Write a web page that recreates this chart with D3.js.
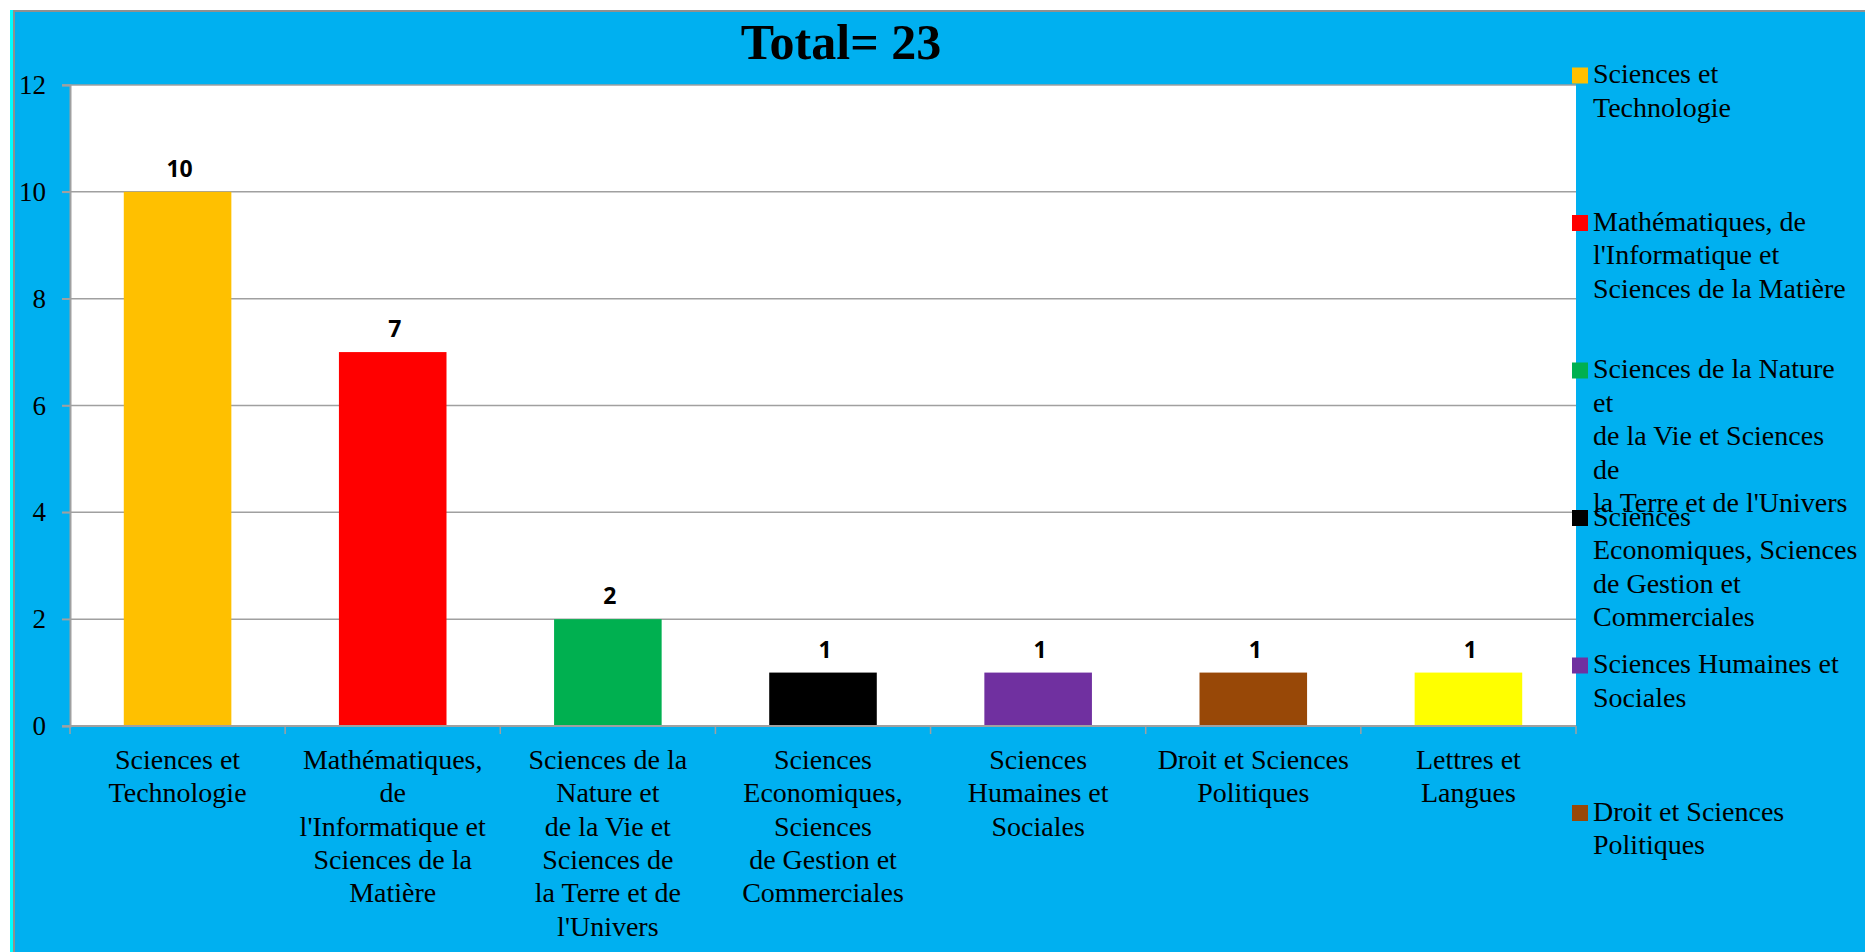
<!DOCTYPE html>
<html lang="fr">
<head>
<meta charset="utf-8">
<title>Total= 23</title>
<script src="https://d3js.org/d3.v7.min.js"></script>
<style>
  body { margin: 0; background: #ffffff; }
  text { font-family: "Liberation Serif", "Times New Roman", serif; }
</style>
</head>
<body>
<script>
// donnees
var categories = [
  "Sciences et Technologie",
  "Mathématiques, de l'Informatique et Sciences de la Matière",
  "Sciences de la Nature et de la Vie et Sciences de la Terre et de l'Univers",
  "Sciences Economiques, Sciences de Gestion et Commerciales",
  "Sciences Humaines et Sociales",
  "Droit et Sciences Politiques",
  "Lettres et Langues"
];
var values = [10, 7, 2, 1, 1, 1, 1];
var colors = ["#FFC000", "#FF0000", "#00B050", "#000000", "#7030A0", "#984807", "#FFFF00"];
var yTicks = [0, 2, 4, 6, 8, 10, 12];

// coupures des libelles (axe et legende)
var axisLines = [
  ["Sciences et", "Technologie"],
  ["Mathématiques,", "de", "l'Informatique et", "Sciences de la", "Matière"],
  ["Sciences de la", "Nature et", "de la Vie et", "Sciences de", "la Terre et de", "l'Univers"],
  ["Sciences", "Economiques,", "Sciences", "de Gestion et", "Commerciales"],
  ["Sciences", "Humaines et", "Sociales"],
  ["Droit et Sciences", "Politiques"],
  ["Lettres et", "Langues"]
];
var legendLines = [
  ["Sciences et", "Technologie"],
  ["Mathématiques, de", "l'Informatique et", "Sciences de la Matière"],
  ["Sciences de la Nature", "et", "de la Vie et Sciences", "de", "la Terre et de l'Univers"],
  ["Sciences", "Economiques, Sciences", "de Gestion et", "Commerciales"],
  ["Sciences Humaines et", "Sociales"],
  ["Droit et Sciences", "Politiques"],
  ["Lettres et", "Langues"]
];

var W = 1865, H = 952;
var pLeft = 70, pTop = 85, pRight = 1576, pBottom = 726;

var svg = d3.select("body").append("svg")
  .attr("width", W)
  .attr("height", H);

// fond
svg.append("rect").attr("x", 10).attr("y", 10).attr("width", 4).attr("height", H)
  .attr("fill", "#00FFFF");
svg.append("rect").attr("x", 14).attr("y", 11).attr("width", W).attr("height", H)
  .attr("fill", "#00B0F0").attr("stroke", "#909090").attr("stroke-width", 2);

// zone du graphique
svg.append("rect").attr("x", pLeft).attr("y", pTop)
  .attr("width", pRight - pLeft).attr("height", pBottom - pTop)
  .attr("fill", "#ffffff");

var x = d3.scaleBand()
  .domain(categories)
  .range([pLeft, pRight])
  .paddingInner(0.5)
  .paddingOuter(0.25);

var y = d3.scaleLinear()
  .domain([0, 12])
  .range([pBottom, pTop]);

// grille
svg.append("g").selectAll("line")
  .data(yTicks)
  .enter().append("line")
  .attr("x1", pLeft - 8).attr("x2", pRight)
  .attr("y1", function(d){ return y(d); })
  .attr("y2", function(d){ return y(d); })
  .attr("stroke", "#a0a0a0").attr("stroke-width", 1.5);

// axe y
var yAxis = svg.append("g")
  .attr("transform", "translate(" + pLeft + ",0)")
  .call(d3.axisLeft(y).tickValues(yTicks).tickSize(8).tickPadding(16));
yAxis.select(".domain").attr("stroke", "#a0a0a0").attr("stroke-width", 2);
yAxis.selectAll(".tick line").attr("stroke", "#a0a0a0").attr("stroke-width", 1.5);
yAxis.selectAll(".tick text")
  .attr("font-family", "Liberation Serif")
  .attr("font-size", 27)
  .attr("fill", "#000");

// barres
svg.append("g").selectAll("rect")
  .data(values)
  .enter().append("rect")
  .attr("x", function(d, i){ return x(categories[i]); })
  .attr("y", function(d){ return y(d); })
  .attr("width", x.bandwidth())
  .attr("height", function(d){ return pBottom - y(d); })
  .attr("fill", function(d, i){ return colors[i]; });

// axe x
var step = x.step();
var bounds = d3.range(categories.length + 1).map(function(i){
  return x(categories[0]) - step * 0.25 + i * step;
});
svg.append("line")
  .attr("x1", pLeft).attr("x2", pRight)
  .attr("y1", pBottom).attr("y2", pBottom)
  .attr("stroke", "#a0a0a0").attr("stroke-width", 2);
svg.append("g").selectAll("line")
  .data(bounds)
  .enter().append("line")
  .attr("x1", function(d){ return d; }).attr("x2", function(d){ return d; })
  .attr("y1", pBottom).attr("y2", pBottom + 8)
  .attr("stroke", "#a0a0a0").attr("stroke-width", 1.5);

var xl = svg.append("g").selectAll("text")
  .data(axisLines)
  .enter().append("text")
  .attr("text-anchor", "middle")
  .attr("font-size", 28)
  .attr("fill", "#000");
xl.each(function(lines, i){
  var t = d3.select(this);
  var cx = x(categories[i]) + x.bandwidth() / 2;
  lines.forEach(function(s, k){
    t.append("tspan").attr("x", cx).attr("y", 769 + k * 33.3).text(s);
  });
});

// etiquettes de valeurs
svg.append("g").selectAll("text")
  .data(values)
  .enter().append("text")
  .attr("x", function(d, i){ return x(categories[i]) + x.bandwidth() / 2 + 2; })
  .attr("y", function(d){ return y(d) - 15; })
  .attr("text-anchor", "middle")
  .style("font-family", "'Open Sans', sans-serif")
  .attr("font-weight", "bold")
  .attr("font-size", 23)
  .attr("fill", "#000")
  .text(function(d){ return d; });

// titre
svg.append("text")
  .attr("x", 841).attr("y", 58.5)
  .attr("text-anchor", "middle")
  .attr("font-size", 50)
  .attr("font-weight", "bold")
  .attr("fill", "#000")
  .text("Total= " + d3.sum(values));

// legende (tronquee en bas comme dans Excel)
svg.append("clipPath").attr("id", "legclip")
  .append("rect").attr("x", 1500).attr("y", 0).attr("width", 400).attr("height", 935);

var leg = svg.append("g").attr("clip-path", "url(#legclip)")
  .selectAll("g")
  .data(categories)
  .enter().append("g")
  .attr("transform", function(d, i){ return "translate(1572," + (67.5 + i * 147.5) + ")"; });
leg.append("rect")
  .attr("width", 16).attr("height", 16)
  .attr("fill", function(d, i){ return colors[i]; });
leg.append("text")
  .attr("font-size", 28)
  .attr("fill", "#000")
  .each(function(d, i){
    var t = d3.select(this);
    legendLines[i].forEach(function(s, k){
      t.append("tspan").attr("x", 21).attr("y", 15.5 + k * 33.5).text(s);
    });
  });
</script>
</body>
</html>
